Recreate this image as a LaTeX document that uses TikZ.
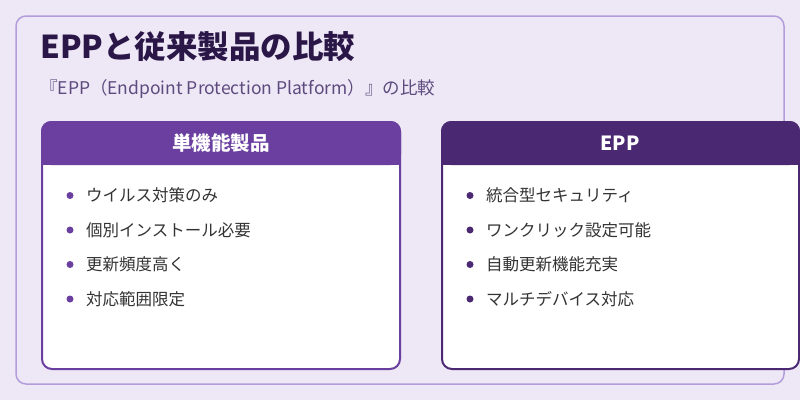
\documentclass[tikz,border=0pt]{standalone}
\usepackage{fontspec}
\setmainfont{Noto Sans CJK JP}
\definecolor{bg}{HTML}{EDE7F6}
\definecolor{frame}{HTML}{B39DDB}
\definecolor{titlec}{HTML}{2A1748}
\definecolor{subc}{HTML}{5E4B7E}
\definecolor{lhead}{HTML}{6A3FA0}
\definecolor{rhead}{HTML}{4A2872}
\definecolor{txt}{HTML}{333333}
\begin{document}
\begin{tikzpicture}[x=1pt,y=-1pt,
  item/.style={anchor=west,font=\fontsize{16.5}{18}\selectfont,text=txt,inner sep=0},
  hd/.style={font=\fontsize{19.5}{22}\selectfont\bfseries,text=white}]
\fill[bg] (0,0) rectangle (800,400);
\useasboundingbox (0,0) rectangle (800,400);
\draw[frame,line width=1.5pt,rounded corners=10pt] (16,16) rectangle (784,384);
\node[anchor=west,inner sep=0,text=titlec,font=\fontsize{31.5}{34}\selectfont\bfseries] (title) at (40,47) {EPPと従来製品の比較};
\node[anchor=west,inner sep=0,text=subc,font=\fontsize{17.5}{20}\selectfont] (sub) at (40,89) {『EPP（Endpoint Protection Platform）』の比較};
% left card
\draw[lhead,line width=2pt,fill=white,rounded corners=10pt] (42,122) rectangle (400,369);
\fill[lhead,rounded corners=10pt] (41,121) rectangle (401,165);
\fill[lhead] (41,150) rectangle (401,165);
\node[hd] (lh) at (221,143) {単機能製品};
% right card
\draw[rhead,line width=2pt,fill=white,rounded corners=10pt] (442,122) rectangle (799,369);
\fill[rhead,rounded corners=10pt] (441,121) rectangle (800,165);
\fill[rhead] (441,150) rectangle (800,165);
\node[hd] (rh) at (620,143) {EPP};
\foreach \t [count=\i] in {ウイルス対策のみ,個別インストール必要,更新頻度高く,対応範囲限定}{
  \fill[lhead] (70,{161+34.5*\i}) circle (3.5);
  \node[item] (l\i) at (86,{161+34.5*\i}) {\t};}
\foreach \t [count=\i] in {統合型セキュリティ,ワンクリック設定可能,自動更新機能充実,マルチデバイス対応}{
  \fill[rhead] (470,{161+34.5*\i}) circle (3.5);
  \node[item] (r\i) at (486,{161+34.5*\i}) {\t};}
\end{tikzpicture}
\end{document}
